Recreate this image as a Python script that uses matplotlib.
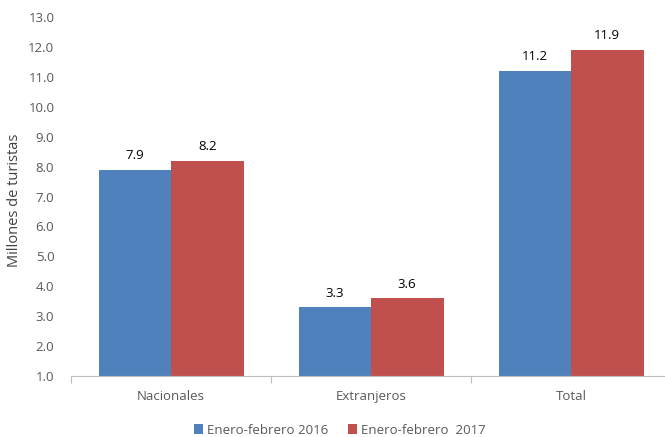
import matplotlib
matplotlib.use("Agg")
import matplotlib.pyplot as plt
import numpy as np

categories = ["Nacionales", "Extranjeros", "Total"]
series_names = ["Enero-febrero 2016", "Enero-febrero  2017"]
values_2016 = [7.9, 3.3, 11.2]
values_2017 = [8.2, 3.6, 11.9]
yticks = [1.0, 2.0, 3.0, 4.0, 5.0, 6.0, 7.0, 8.0, 9.0, 10.0, 11.0, 12.0, 13.0]
colors = ["#4F81BD", "#C0504D"]

plt.rcParams['font.family'] = ['Open Sans', 'DejaVu Sans']
fig = plt.figure(figsize=(6.65, 4.37), dpi=100)
ax = fig.add_axes([71/665, (437-376)/437, 600/665, (376-17)/437])

base = 1.0
x = np.arange(len(categories))
w = 0.3625
for i, (vals, name) in enumerate(zip([values_2016, values_2017], series_names)):
    pos = x + (i - 0.5) * w
    heights = [v - base for v in vals]
    ax.bar(pos, heights, width=w, bottom=base, color=colors[i], label=name)
    for p, v in zip(pos, vals):
        ax.text(p, v + 0.25, f"{v:.1f}", ha="center", va="bottom", fontsize=9.5, color="#000000")

ax.set_xlim(-0.5, 2.5)
ax.set_ylim(1.0, 13.0)
ax.set_yticks(yticks)
ax.set_yticklabels([f"{t:.1f}" for t in yticks], fontsize=9.5, color="#595959")
ax.set_xticks(x)
ax.set_xticklabels(categories, fontsize=9.5, color="#595959")
ax.tick_params(axis="y", length=0, pad=12)
ax.tick_params(axis="x", length=0, pad=10)
ax.set_xticks([-0.5, 0.5, 1.5, 2.5], minor=True)
ax.tick_params(axis="x", which="minor", length=5, color="#BFBFBF", width=0.8)
for s in ["left", "right", "top"]:
    ax.spines[s].set_visible(False)
ax.spines["bottom"].set_color("#BFBFBF")
ax.spines["bottom"].set_linewidth(0.8)

fig.text(15/665, 1 - 200/437, "Millones de turistas", rotation=90, ha="center", va="center",
         fontsize=10.5, color="#404040")

leg = fig.legend(loc="center", bbox_to_anchor=(340/665, 1 - 430/437), ncol=2, frameon=False,
                 fontsize=9.5, handlelength=0.7, handleheight=0.7, handletextpad=0.3,
                 columnspacing=1.5)
for t in leg.get_texts():
    t.set_color("#595959")

fig.savefig("out.png", dpi=100)
